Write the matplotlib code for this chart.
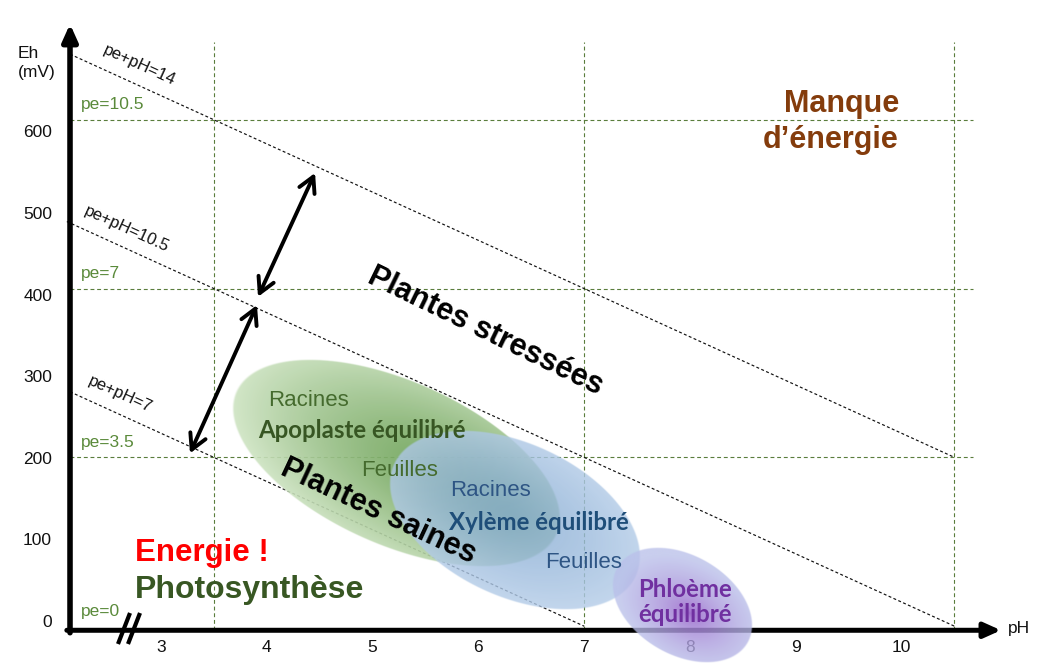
import numpy as np
import matplotlib
matplotlib.use("Agg")
import matplotlib.pyplot as plt

# ------------------------------------------------------------------ data
X_TICKS = [3, 4, 5, 6, 7, 8, 9, 10]
Y_TICKS = [0, 100, 200, 300, 400, 500, 600]
MV_PER_PE = 59.16
PE_GRID = [3.5, 7, 10.5]            # horizontal guides (pe)
PH_GRID = [3.5, 7, 10.5]            # vertical guides (pH)
PE_LABEL_VALUES = [0, 3.5, 7, 10.5]
PE_LABELS = ["pe=0", "pe=3.5", "pe=7", "pe=10.5"]
DIAG_SUMS = [14, 10.5, 7]           # pe + pH = const
DIAG_START_PH = [2.14, 2.11, 2.14]
DIAG_END_PH = [10.5, 10.5, 7]
DIAG_LABELS = ["pe+pH=14", "pe+pH=10.5", "pe+pH=7"]
DIAG_LABEL_PH = [2.80, 2.68, 2.61]

# zones (ellipses): centre pH, centre Eh (mV)
ZONE_PH = [5.22, 6.34, 7.93]
ZONE_EH = [200, 130, 26]

# double arrows (pH, Eh) between the pe+pH lines
ARROW_UP = [(3.917, 404), (4.456, 556)]
ARROW_DOWN = [(3.907, 394), (3.274, 212)]

# ------------------------------------------------------------------ layout
W, H = 1048, 667
PX_PER_PH = 105.8
PX_PH3 = 161.0
PX_PER_MV = 0.81525
PX_EH0 = 626.2


def ph_of(x):
    return 3 + (x - PX_PH3) / PX_PER_PH


def eh_of(y):
    return (PX_EH0 - y) / PX_PER_MV


def px_of(ph, eh):
    return PX_PH3 + (ph - 3) * PX_PER_PH, PX_EH0 - eh * PX_PER_MV


ARIAL = ["Liberation Sans", "DejaVu Sans"]
CALIBRI = ["Lato", "DejaVu Sans"]
plt.rcParams["font.family"] = ARIAL

fig = plt.figure(figsize=(W / 100, H / 100), dpi=100)
ax = fig.add_axes([0, 0, 1, 1])
XL = (ph_of(0), ph_of(W))
YL = (eh_of(H), eh_of(0))
ax.axis("off")

AX_PH = 2.14           # y axis position
AX_EH = -5.0           # x axis position
GRID_C = "#5a7d3c"
GRID_RIGHT = 10.675
GRID_TOP = 716.6

# guides
for pe in PE_GRID:
    e = pe * MV_PER_PE
    ax.plot([AX_PH, GRID_RIGHT], [e, e], color=GRID_C, lw=0.8,
            ls=(0, (3.5, 2.5)), zorder=1)
for ph in PH_GRID:
    ax.plot([ph, ph], [AX_EH, GRID_TOP], color=GRID_C, lw=0.8,
            ls=(0, (3.5, 2.5)), zorder=1)

# diagonals
slope_deg = np.degrees(np.arctan(MV_PER_PE * PX_PER_MV / PX_PER_PH))
for s, p0, p1, lab, lp in zip(DIAG_SUMS, DIAG_START_PH, DIAG_END_PH,
                              DIAG_LABELS, DIAG_LABEL_PH):
    phs = np.array([p0, p1])
    ax.plot(phs, (s - phs) * MV_PER_PE, color="#111111", lw=0.85,
            ls=(0, (2.5, 2)), zorder=1)
    ax.text(lp, (s - lp) * MV_PER_PE + 25, lab, rotation=-slope_deg,
            rotation_mode="anchor", ha="center", va="center",
            fontsize=12, color="#111111", zorder=6)

# pe labels
for v, lab in zip(PE_LABEL_VALUES, PE_LABELS):
    ax.annotate(lab, xy=(ph_of(81), v * MV_PER_PE), xytext=(0, 10.8),
                textcoords="offset points", ha="left", va="center",
                fontsize=12.5, color="#5a8a3a", zorder=6)

# axes with arrows
ax.annotate("", xy=(ph_of(1001), AX_EH), xytext=(AX_PH - 0.03, AX_EH),
            arrowprops=dict(arrowstyle="-|>,head_length=1.0,head_width=0.45",
                            lw=3.6, color="black", mutation_scale=10,
                            shrinkA=0, shrinkB=0), zorder=3)
ax.annotate("", xy=(AX_PH, eh_of(24)), xytext=(AX_PH, AX_EH - 3),
            arrowprops=dict(arrowstyle="-|>,head_length=1.0,head_width=0.45",
                            lw=4.0, color="black", mutation_scale=10,
                            shrinkA=0, shrinkB=0), zorder=3)
# axis break
for dx in (0, 10):
    ax.plot([ph_of(118 + dx), ph_of(130 + dx)], [eh_of(644), eh_of(613)],
            color="black", lw=3.0, solid_capstyle="butt", zorder=3)

# tick labels
for t in X_TICKS:
    ax.text(t, eh_of(647), str(t), ha="center", va="center", fontsize=12.5,
            color="#111111", zorder=2)
for t in Y_TICKS:
    ax.text(ph_of(52), t + 5, str(t), ha="right", va="center", fontsize=12.5,
            color="#111111", zorder=2)
ax.text(ph_of(18), eh_of(63), "Eh\n(mV)", ha="left", va="center",
        fontsize=12.5, linespacing=1.25, color="#111111")
ax.text(ph_of(1008), eh_of(629), "pH", ha="left", va="center",
        fontsize=12.5, color="#111111")


# ellipses with radial gradients
def ellipse(ph, eh, a, b, ang, goff, c_in, c_out, al_in, al_out, power,
            scale, z):
    cx, cy = px_of(ph, eh)
    gx, gy = cx + goff[0], cy + goff[1]
    th = np.radians(ang)
    c, s = np.cos(th), np.sin(th)
    ex = np.sqrt((a * c) ** 2 + (b * s) ** 2) + 3
    ey = np.sqrt((a * s) ** 2 + (b * c) ** 2) + 3
    x0, x1, y0, y1 = cx - ex, cx + ex, cy - ey, cy + ey
    nx, ny = int(2 * (x1 - x0)), int(2 * (y1 - y0))
    X, Y = np.meshgrid(np.linspace(x0, x1, nx), np.linspace(y0, y1, ny))
    dx, dy = X - cx, Y - cy
    u, v = dx * c + dy * s, -dx * s + dy * c
    r = np.sqrt((u / a) ** 2 + (v / b) ** 2)
    gdx, gdy = X - gx, Y - gy
    gu, gv = gdx * c + gdy * s, -gdx * s + gdy * c
    t = np.clip(np.sqrt((gu / a) ** 2 + (gv / b) ** 2) / scale, 0, 1) ** power
    cin = np.array(c_in) / 255.0
    cout = np.array(c_out) / 255.0
    rgba = np.zeros((ny, nx, 4))
    rgba[..., :3] = cin * (1 - t)[..., None] + cout * t[..., None]
    rgba[..., 3] = (al_in * (1 - t) + al_out * t) * np.clip((1 - r) * b, 0, 1)
    ax.imshow(rgba, extent=(ph_of(x0), ph_of(x1), eh_of(y1), eh_of(y0)),
              origin="upper", aspect="auto", interpolation="bilinear",
              zorder=z)


ellipse(ZONE_PH[0], ZONE_EH[0], 176, 82, 24, (45, 10),
        (110, 163, 88), (214, 233, 203), 0.92, 0.9, 1.3, 1.35, 4)
ellipse(ZONE_PH[1], ZONE_EH[1], 134, 77, 25, (-5, -5),
        (132, 170, 210), (184, 207, 234), 0.78, 0.82, 1.3, 1.1, 4.1)
ellipse(ZONE_PH[2], ZONE_EH[2], 76, 50, 30, (7, 8),
        (145, 80, 195), (186, 192, 234), 0.9, 0.78, 0.55, 1.0, 4.2)

ax.set_xlim(*XL)
ax.set_ylim(*YL)

# double arrows
for (p0, p1) in (ARROW_UP, ARROW_DOWN):
    ax.annotate("", xy=p1, xytext=p0,
                arrowprops=dict(arrowstyle="<->,head_length=0.55,head_width=0.3",
                                lw=2.8, color="black", mutation_scale=20,
                                shrinkA=0, shrinkB=0), zorder=5)

# zone texts
G_TXT, G_BOLD = "#456b2e", "#375623"
B_TXT, B_BOLD = "#2e5584", "#1f4e79"
ax.text(ph_of(308), eh_of(400), "Racines", ha="center", va="center",
        fontsize=16, color=G_TXT, zorder=6)
ax.text(ph_of(362), eh_of(431), "Apoplaste équilibré", ha="center",
        va="center", fontsize=17.3, fontweight="bold", family=CALIBRI,
        color=G_BOLD, zorder=6)
ax.text(ph_of(400), eh_of(471), "Feuilles", ha="center", va="center",
        fontsize=16, color=G_TXT, zorder=6)
ax.text(ph_of(491), eh_of(490), "Racines", ha="center", va="center",
        fontsize=16, color=B_TXT, zorder=6)
ax.text(ph_of(539), eh_of(522), "Xylème équilibré", ha="center",
        va="center", fontsize=17.3, fontweight="bold", family=CALIBRI,
        color=B_BOLD, zorder=6)
ax.text(ph_of(584), eh_of(562), "Feuilles", ha="center", va="center",
        fontsize=16, color=B_TXT, zorder=6)
ax.text(ph_of(685), eh_of(602), "Phloème\néquilibré", ha="center",
        va="center", fontsize=17.3, fontweight="bold", family=CALIBRI,
        linespacing=1.1, color="#7030a0", zorder=6)

# big labels
ax.text(ph_of(485), eh_of(331), "Plantes stressées", rotation=-26,
        rotation_mode="anchor", ha="center", va="center", fontsize=22,
        fontweight="bold", color="black", zorder=6)
ax.text(ph_of(378), eh_of(512), "Plantes saines", rotation=-25,
        rotation_mode="anchor", ha="center", va="center", fontsize=22,
        fontweight="bold", color="black", zorder=6)
ax.text(ph_of(135), eh_of(561), "Energie !", ha="left", va="baseline",
        fontsize=22.5, fontweight="bold", color="#ff0000", zorder=6)
ax.text(ph_of(135), eh_of(598), "Photosynthèse", ha="left", va="baseline",
        fontsize=23, fontweight="bold", color="#385723", zorder=6)
ax.text(ph_of(899), eh_of(122), "Manque\nd’énergie", ha="right",
        va="center", multialignment="right", fontsize=22, linespacing=1.25,
        fontweight="bold", color="#843c0c", zorder=6)

fig.savefig("out.png", dpi=100)
